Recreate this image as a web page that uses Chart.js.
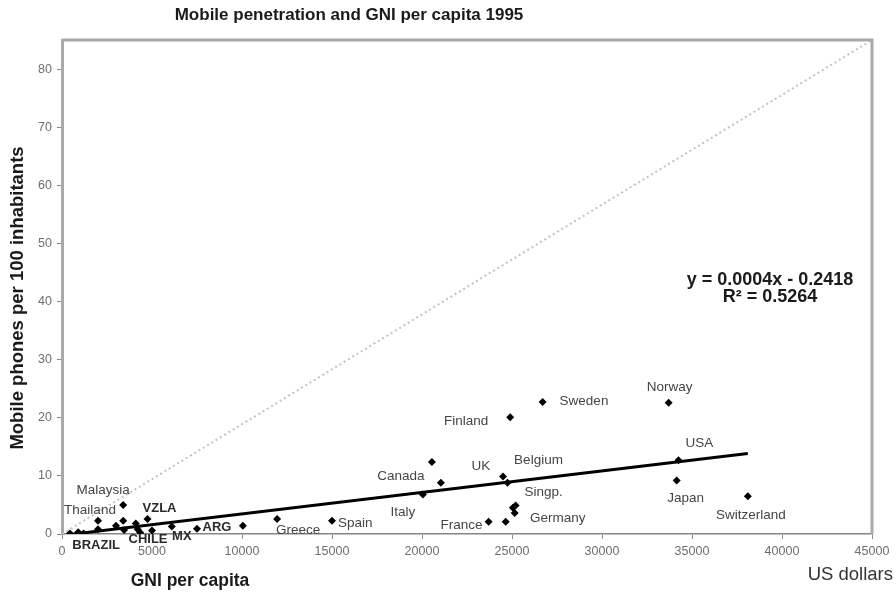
<!DOCTYPE html>
<html>
<head>
<meta charset="utf-8">
<script src="https://cdn.jsdelivr.net/npm/chart.js@4"></script>
<style>
  html, body { margin: 0; padding: 0; background: #ffffff; }
  #wrap { width: 896px; height: 599px; }
</style>
</head>
<body>
<div id="wrap"><canvas id="chart" width="896" height="599"></canvas></div>
<script>
// Countries, 1995: GNI per capita (US$) against mobile subscribers per 100 inhabitants
const countries = [
  '', '', '', '', 'Thailand', '', '', 'Malaysia', 'BRAZIL', '', '', '', 'VZLA', 'CHILE', 'MX', 'ARG',
  '', 'Greece', 'Spain', 'Italy', '', 'Canada', 'France', '', 'UK', 'Belgium', 'Finland', 'Singp.',
  '', 'Germany', 'Sweden', 'Norway', 'USA', 'Japan', 'Switzerland'
];
const gniPerCapita = [
  440, 900, 1200, 2000, 2000, 3000, 3400, 3400, 3450, 4100, 4200, 4350, 4750, 5000, 6100, 7500,
  10050, 11950, 15000, 20050, 20550, 21050, 23700, 24650, 24500, 24750, 24900, 25200,
  25050, 25150, 26700, 33700, 34250, 34150, 38100
];
const mobilePer100 = [
  0.1, 0.3, 0.1, 0.8, 2.3, 1.4, 2.3, 5.0, 0.7, 1.8, 0.8, 0.2, 2.6, 0.6, 1.3, 0.9,
  1.4, 2.6, 2.3, 6.8, 12.4, 8.8, 2.1, 2.1, 9.9, 8.8, 20.1, 4.9,
  4.5, 3.6, 22.7, 22.6, 12.7, 9.2, 6.5
];

// Axis ranges and tick steps
const xAxisMax = 45000, xTickStep = 5000;
const yAxisMax = 85, yTickStep = 10;

// Dotted diagonal guide line (GNI, mobiles)
const guideX = [0, 45000];
const guideY = [0, 85];

// Linear trend fitted to the country points
const trendSlope = 0.00037;
const trendIntercept = -0.2418;
const rSquared = 0.5264;

// Text placement of the country names around their markers: [dx, dy, align]
const labelPlacement = {
  'Norway': [1, -15, 'center'], 'Sweden': [17, -1, 'left'], 'Finland': [-22, 4, 'right'],
  'USA': [21, -17, 'center'], 'Japan': [9, 18, 'center'], 'Switzerland': [3, 19, 'center'],
  'Belgium': [31, -23, 'center'], 'UK': [-22, -10, 'center'], 'Canada': [-40, -7, 'center'],
  'Italy': [-20, 18, 'center'], 'Singp.': [28, -13, 'center'], 'Germany': [43, 5, 'center'],
  'France': [-6, 3, 'right'], 'Spain': [6, 3, 'left'], 'Greece': [-1, 11, 'left'],
  'Malaysia': [-20, -15, 'center'], 'Thailand': [-8, -10, 'center'], 'VZLA': [12, -10, 'center'],
  'BRAZIL': [-28, 15, 'center'], 'CHILE': [-4, 9, 'center'], 'MX': [10, 10, 'center'],
  'ARG': [20, -1, 'center']
};
const boldLabels = ['BRAZIL', 'CHILE', 'MX', 'ARG', 'VZLA'];

const FONT = '"Liberation Sans", Arial, sans-serif';

const points = gniPerCapita.map((g, i) => ({ x: g, y: mobilePer100[i] }));
const trendFrom = Math.min(...gniPerCapita);
const trendTo = Math.max(...gniPerCapita);
const trendPoints = [trendFrom, trendTo].map(x => ({ x: x, y: trendSlope * x + trendIntercept }));
const guidePoints = guideX.map((x, i) => ({ x: x, y: guideY[i] }));

function drawText(ctx, s, x, y, font, color, align) {
  ctx.save();
  ctx.font = font;
  ctx.fillStyle = color;
  ctx.textAlign = align || 'center';
  ctx.textBaseline = 'middle';
  ctx.fillText(s, x, y);
  ctx.restore();
}

const decorations = {
  id: 'decorations',
  afterDatasetsDraw(chart) {
    const ctx = chart.ctx;
    const xs = chart.scales.x, ys = chart.scales.y;
    const area = chart.chartArea;

    // top and right edges of the plot frame
    ctx.save();
    ctx.strokeStyle = '#a9a9a9';
    ctx.lineWidth = 3;
    ctx.beginPath();
    ctx.moveTo(area.left, area.top);
    ctx.lineTo(area.right, area.top);
    ctx.lineTo(area.right, area.bottom);
    ctx.stroke();
    ctx.restore();

    // country names
    countries.forEach((name, i) => {
      if (!name) return;
      const p = labelPlacement[name];
      const px = xs.getPixelForValue(gniPerCapita[i]) + p[0];
      const py = ys.getPixelForValue(mobilePer100[i]) + p[1];
      const bold = boldLabels.includes(name);
      drawText(ctx, name, px, py,
        (bold ? 'bold 13px ' : '13.5px ') + FONT,
        bold ? '#2a2a2a' : '#454545', p[2]);
    });

    // trend equation
    const eq = 'y = ' + trendSlope.toFixed(4) + 'x ' + (trendIntercept < 0 ? '- ' : '+ ') +
      Math.abs(trendIntercept).toFixed(4);
    drawText(ctx, eq, 770, 280, 'bold 18px ' + FONT, '#1a1a1a', 'center');
    drawText(ctx, 'R\u00B2 = ' + rSquared.toFixed(4), 770, 297, 'bold 18px ' + FONT, '#1a1a1a', 'center');

    // titles
    drawText(ctx, 'Mobile penetration and GNI per capita 1995', 349, 15, 'bold 17px ' + FONT, '#1a1a1a', 'center');
    drawText(ctx, 'GNI per capita', 190, 581, 'bold 17.5px ' + FONT, '#1a1a1a', 'center');
    drawText(ctx, 'US dollars', 893, 575, '18.5px ' + FONT, '#333333', 'right');

    ctx.save();
    ctx.translate(18, 298);
    ctx.rotate(-Math.PI / 2);
    drawText(ctx, 'Mobile phones per 100 inhabitants', 0, 0, 'bold 18.5px ' + FONT, '#1a1a1a', 'center');
    ctx.restore();
  }
};

new Chart(document.getElementById('chart'), {
  type: 'scatter',
  data: {
    datasets: [
      {
        label: 'Countries',
        data: points,
        pointStyle: 'rectRot',
        pointRadius: 4,
        backgroundColor: '#000000',
        borderColor: '#000000',
        borderWidth: 0,
        showLine: false
      },
      {
        label: 'Trend',
        data: trendPoints,
        showLine: true,
        borderColor: '#000000',
        borderWidth: 3,
        pointRadius: 0,
        fill: false
      },
      {
        label: 'Guide',
        data: guidePoints,
        showLine: true,
        borderColor: '#c2c2c2',
        borderWidth: 2,
        borderDash: [2, 3],
        pointRadius: 0,
        fill: false
      }
    ]
  },
  options: {
    responsive: false,
    animation: false,
    devicePixelRatio: 1,
    layout: { padding: { top: 40, right: 24, left: 0, bottom: 0 } },
    plugins: {
      legend: { display: false },
      tooltip: { enabled: false },
      title: { display: false }
    },
    scales: {
      x: {
        type: 'linear',
        min: 0,
        max: xAxisMax,
        afterFit: s => { s.height = 65; },
        ticks: {
          stepSize: xTickStep,
          autoSkip: false,
          maxRotation: 0,
          padding: 5,
          color: '#6e6e6e',
          font: { family: FONT, size: 12.5 },
          callback: v => String(v)
        },
        grid: { drawOnChartArea: false, drawTicks: true, tickLength: 5, tickColor: '#8a8a8a', tickWidth: 1 },
        border: { display: true, color: '#858585', width: 1.5 }
      },
      y: {
        type: 'linear',
        min: 0,
        max: yAxisMax,
        afterFit: s => { s.width = 62; },
        ticks: {
          stepSize: yTickStep,
          includeBounds: false,
          padding: 5,
          color: '#6e6e6e',
          font: { family: FONT, size: 12.5 },
          callback: v => String(v)
        },
        grid: { drawOnChartArea: false, drawTicks: true, tickLength: 5, tickColor: '#8a8a8a', tickWidth: 1 },
        border: { display: true, color: '#a9a9a9', width: 3 }
      }
    }
  },
  plugins: [decorations]
});
</script>
</body>
</html>
